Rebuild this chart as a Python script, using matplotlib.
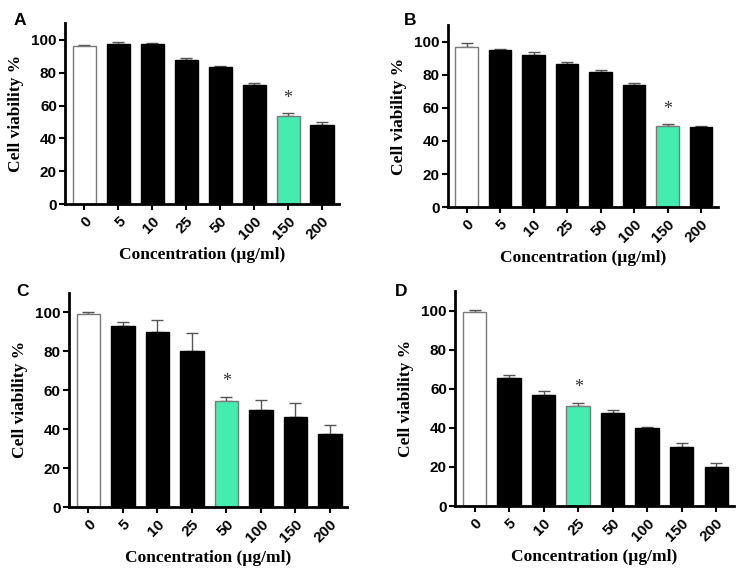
import numpy as np
import matplotlib
matplotlib.use("Agg")
import matplotlib.pyplot as plt

## Concentrations (µg/ml) shared by all four panels
concentrations = ["0", "5", "10", "25", "50", "100", "150", "200"]

## Cell viability % (mean) and upper error per panel
viabilityA = [96.5, 97.5, 97.3, 87.5, 83.5, 72.5, 53.5, 48.0]
errorA = [0.6, 1.2, 1.0, 1.5, 0.8, 1.0, 2.0, 2.0]
viabilityB = [97.0, 95.0, 92.2, 86.7, 81.6, 74.0, 49.0, 48.3]
errorB = [2.0, 0.8, 1.6, 1.0, 1.2, 0.8, 1.2, 0.8]
viabilityC = [98.8, 93.0, 90.0, 80.0, 54.3, 50.0, 46.0, 37.7]
errorC = [1.0, 2.0, 6.0, 9.0, 2.3, 5.0, 7.5, 4.3]
viabilityD = [99.3, 65.5, 57.0, 51.3, 47.5, 40.0, 30.0, 20.0]
errorD = [1.0, 1.5, 2.0, 1.5, 1.8, 0.5, 2.2, 2.0]

## Index of the bar marked with an asterisk (green)
highlightA, highlightB, highlightC, highlightD = 6, 6, 4, 3

panels = [
    ("A", viabilityA, errorA, highlightA, [0.087, 0.651, 0.365, 0.309], (0.018, 0.965)),
    ("B", viabilityB, errorB, highlightB, [0.597, 0.646, 0.360, 0.311], (0.538, 0.965)),
    ("C", viabilityC, errorC, highlightC, [0.092, 0.133, 0.371, 0.367], (0.022, 0.502)),
    ("D", viabilityD, errorD, highlightD, [0.607, 0.135, 0.371, 0.367], (0.526, 0.502)),
]

greenColor = "#45ecb0"
edgeGray = "#7a7a7a"

fig = plt.figure(figsize=(7.5, 5.85), dpi=100)

for letter, values, errors, highlight, rect, letterPos in panels:
    ax = fig.add_axes(rect)
    x = np.arange(len(concentrations))
    faceColors = ["black"] * len(values)
    edgeColors = ["black"] * len(values)
    faceColors[0], edgeColors[0] = "white", edgeGray
    faceColors[highlight], edgeColors[highlight] = greenColor, edgeGray
    ax.bar(x, values, width=0.68, color=faceColors, edgecolor=edgeColors, linewidth=1.0, zorder=2)
    ## Upper-only error bars, drawn behind the bar body
    ax.errorbar(x, values, yerr=[np.zeros(len(errors)), errors], fmt="none",
                ecolor="#555555", elinewidth=1.0, capsize=4, capthick=1.0, zorder=1)
    ax.text(highlight, values[highlight] + errors[highlight] + 3.5, "*", ha="center", va="bottom",
            fontsize=13, color="#333333", family="Liberation Serif")

    ## Axes ranges and ticks
    ax.set_xlim(-0.56, 7.5)
    ax.set_ylim(0, 110)
    ax.set_yticks([0, 20, 40, 60, 80, 100])
    ax.set_xticks(x)
    ax.set_xticklabels(concentrations, rotation=45, ha="right", va="top", rotation_mode="anchor")
    for tickLabel in ax.get_xticklabels() + ax.get_yticklabels():
        tickLabel.set_fontfamily("Liberation Sans")
        tickLabel.set_fontweight("bold")
        tickLabel.set_fontsize(11)
    ax.tick_params(axis="both", direction="out", width=1.5, length=4, pad=2)
    ax.tick_params(axis="x", pad=3)

    ## Border formatting
    for Border in ["top", "right"]:
        ax.spines[Border].set_visible(False)
    for Border in ["left", "bottom"]:
        ax.spines[Border].set_linewidth(2)

    ax.set_ylabel("Cell viability %", family="Liberation Serif", fontweight="bold", fontsize=12.5, labelpad=5)
    ax.set_xlabel("Concentration (µg/ml)", family="Liberation Serif", fontweight="bold", fontsize=12.5, labelpad=4)
    fig.text(letterPos[0], letterPos[1], letter, family="Liberation Sans", fontweight="bold", fontsize=12.5,
             ha="left", va="center")

fig.savefig("out.png", dpi=100)
